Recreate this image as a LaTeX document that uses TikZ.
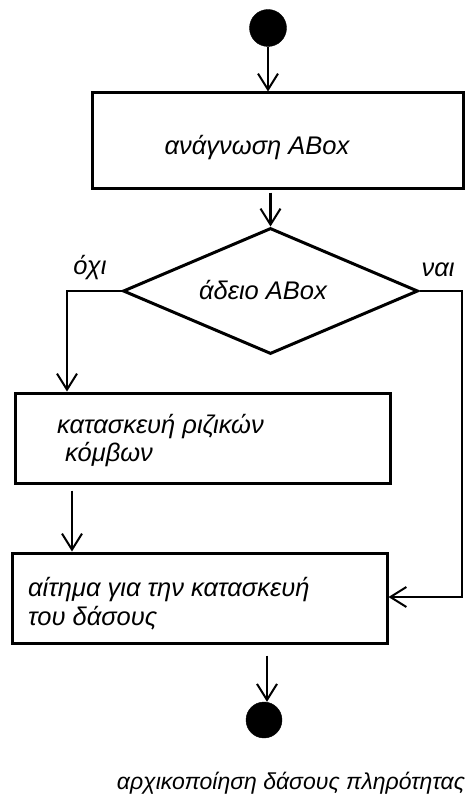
\documentclass[tikz,border=0pt]{standalone}
\usepackage{fontspec}
\setmainfont{Liberation Sans}
\usetikzlibrary{shapes.geometric,arrows.meta,calc}
\begin{document}
\begin{tikzpicture}[x=1pt,y=-1pt,
  box/.style={draw,line width=3pt,inner sep=0pt,rectangle},
  dot/.style={circle,fill=black,draw=black,inner sep=0pt,minimum size=37pt},
  txt/.style={font=\fontsize{25.5}{30}\selectfont\itshape,inner sep=0pt},
  captxt/.style={font=\fontsize{23}{28}\selectfont\itshape,inner sep=0pt},
  flow/.style={line width=2.5pt,-{Straight Barb[length=16pt,width=20pt,line width=2pt]}},
  line/.style={line width=2.5pt}]
\useasboundingbox (0,0) rectangle (465,797);
\node[dot] (start) at (268,28) {};
\node[box,minimum width=371pt,minimum height=95pt] (b1) at (277.5,140.5) {};
\node[txt] (t1) at (257,148) {ανάγνωση ABox};
\node[draw,diamond,line width=3pt,inner sep=0pt,minimum width=295pt,minimum height=126pt] (d) at (270.5,291) {};
\node[txt] (t2) at (263,290) {άδειο ABox};
\node[txt] (no) at (90,268) {όχι};
\node[txt] (yes) at (438,270) {ναι};
\node[box,minimum width=375pt,minimum height=90pt] (b2) at (202.5,438) {};
\node[txt,anchor=west] (t3a) at (57,427) {κατασκευή ριζικών};
\node[txt,anchor=west] (t3b) at (65,455) {κόμβων};
\node[box,minimum width=375pt,minimum height=90pt] (b3) at (199.5,598) {};
\node[txt,anchor=west] (t4a) at (28,590) {αίτημα για την κατασκευή};
\node[txt,anchor=west] (t4b) at (28,618) {του δάσους};
\node[dot,minimum size=36pt] (end) at (264,720) {};
\node[captxt] (cap) at (291,783) {αρχικοποίηση δάσους πληρότητας};
\coordinate (l1) at (67,291);
\coordinate (r1) at (462,291);
\coordinate (r2) at (462,597);
\draw[flow] (start.south) -- (b1.north -| start.south);
\draw[flow] ($(b1.south -| d.north)+(0,3)$) -- (d.north);
\draw[flow] (d.west) -- (l1) -- (l1 |- b2.north);
\draw[flow] (d.east) -- (r1) -- (r2) -- (b3.east |- r2);
\draw[flow] ($(b2.south -| 72,0)+(0,6)$) -- (b3.north -| 72,0);
\draw[flow] ($(b3.south -| 267,0)+(0,11)$) -- (end.north -| 267,0);
\end{tikzpicture}
\end{document}
